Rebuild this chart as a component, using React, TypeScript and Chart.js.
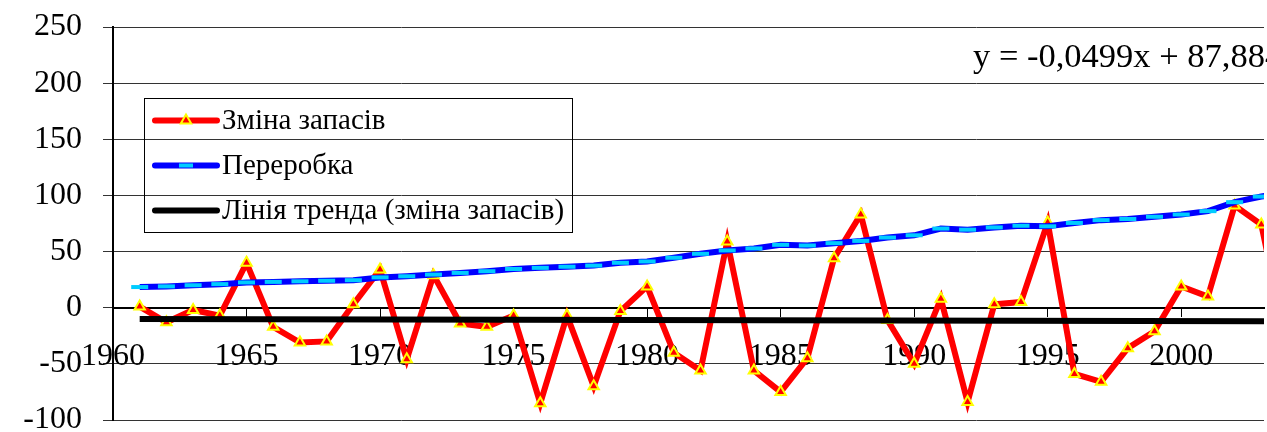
import React, { useEffect, useRef } from "react";
import { Chart, registerables } from "chart.js";

Chart.register(...registerables);

// ---- data ----
const years = [
  1961, 1962, 1963, 1964, 1965, 1966, 1967, 1968, 1969, 1970,
  1971, 1972, 1973, 1974, 1975, 1976, 1977, 1978, 1979, 1980,
  1981, 1982, 1983, 1984, 1985, 1986, 1987, 1988, 1989, 1990,
  1991, 1992, 1993, 1994, 1995, 1996, 1997, 1998, 1999, 2000,
  2001, 2002, 2003, 2004,
];
const stockChange = [
  1, -13, -2, -7, 40, -17, -31, -30, 3, 34,
  -46, 29, -14, -17, -7, -85, -7, -70, -3, 19,
  -40, -56, 59, -56, -75, -45, 44, 83, -11, -50,
  8, -84, 3, 5, 76, -59, -66, -36, -21, 19,
  10, 91, 74, -40,
];
const processing = [
  18.4, 19, 20, 21, 22.5, 23, 23.5, 24, 24.5, 27,
  28, 29.5, 31, 32.5, 34.5, 35.5, 36.5, 37.5, 40, 41.2,
  44.5, 48, 51, 52.8, 56, 55.4, 57.5, 59.5, 62.5, 64.5,
  70.5, 69.5, 71.5, 73, 72.5, 75.5, 78, 79, 81, 83,
  86, 94, 99, 103,
];
const trendYears = [1961, 2004];
const trendValues = [-9.97, -12.12];
const xTickYears = [1960, 1965, 1970, 1975, 1980, 1985, 1990, 1995, 2000];
const xMin = 1960;
const xMax = 2003.1;
const yMin = -100;
const yMax = 250;
const yStep = 50;
const seriesLabels = ["Зміна запасів", "Переробка", "Лінія тренда (зміна запасів)"];
const trendEquation = "y = -0,0499x + 87,884";

const FONT = '"Liberation Serif", "Times New Roman", serif';

function toPoints(xs: number[], ys: number[]) {
  return xs.map((x, i) => ({ x, y: ys[i] }));
}

export default function App() {
  const ref = useRef<HTMLCanvasElement>(null);

  useEffect(() => {
    const canvas = ref.current;
    if (!canvas) return;

    const boxLegend = {
      id: "boxLegend",
      afterDraw(chart: any) {
        const ctx = chart.ctx as CanvasRenderingContext2D;
        ctx.save();
        // legend frame
        ctx.strokeStyle = "#000";
        ctx.lineWidth = 1;
        ctx.strokeRect(144.5, 98.5, 428, 134);
        const rows = [120.5, 165.5, 210.5];
        chart.data.datasets.forEach((ds: any, i: number) => {
          const y = rows[i];
          ctx.strokeStyle = ds.borderColor;
          ctx.lineWidth = ds.borderWidth;
          ctx.lineCap = "round";
          ctx.beginPath();
          ctx.moveTo(155, y);
          ctx.lineTo(217, y);
          ctx.stroke();
          const cx = 186;
          if (ds.pointStyle === "triangle") {
            const r = ds.pointRadius;
            ctx.beginPath();
            for (let k = 0; k < 3; k++) {
              const a = (k * 2 * Math.PI) / 3;
              const px = cx + Math.sin(a) * r;
              const py = y - Math.cos(a) * r;
              if (k === 0) ctx.moveTo(px, py);
              else ctx.lineTo(px, py);
            }
            ctx.closePath();
            ctx.fillStyle = ds.pointBackgroundColor;
            ctx.fill();
            ctx.lineWidth = ds.pointBorderWidth;
            ctx.strokeStyle = ds.pointBorderColor;
            ctx.lineCap = "butt";
            ctx.stroke();
          } else if (ds.pointStyle === "line") {
            ctx.lineCap = "butt";
            ctx.strokeStyle = ds.pointBorderColor;
            ctx.lineWidth = ds.pointBorderWidth;
            ctx.beginPath();
            ctx.moveTo(cx - 7, y);
            ctx.lineTo(cx + 7, y);
            ctx.stroke();
          }
          ctx.fillStyle = "#000";
          ctx.font = `29px ${FONT}`;
          ctx.textBaseline = "middle";
          ctx.textAlign = "left";
          ctx.fillText(ds.label, 222, y + 1);
        });
        // trend equation
        ctx.font = `34.5px ${FONT}`;
        ctx.textBaseline = "alphabetic";
        ctx.fillText(trendEquation, 973, 67);
        ctx.restore();
      },
    };

    const chart = new Chart(canvas, {
      type: "line",
      data: {
        datasets: [
          {
            label: seriesLabels[0],
            data: toPoints(years, stockChange),
            borderColor: "#FF0000",
            borderWidth: 6,
            pointStyle: "triangle",
            pointRadius: 6,
            pointBackgroundColor: "#FF0000",
            pointBorderColor: "#FFFF00",
            pointBorderWidth: 2,
            tension: 0,
            order: 2,
          },
          {
            label: seriesLabels[1],
            data: toPoints(years, processing),
            borderColor: "#0000FF",
            borderWidth: 6,
            pointStyle: "line",
            pointRadius: 8.5,
            pointBackgroundColor: "#00CCFF",
            pointBorderColor: "#00CCFF",
            pointBorderWidth: 4,
            tension: 0,
            order: 1,
          },
          {
            label: seriesLabels[2],
            data: toPoints(trendYears, trendValues),
            borderColor: "#000000",
            borderWidth: 6,
            pointRadius: 0,
            tension: 0,
            order: 0,
          },
        ],
      } as any,
      options: {
        animation: false,
        responsive: false,
        devicePixelRatio: 1,
        layout: { autoPadding: false, padding: { top: 27, bottom: 12, left: 0, right: 3 } },
        plugins: {
          legend: { display: false },
          tooltip: { enabled: false },
        },
        events: [],
        scales: {
          x: {
            type: "linear",
            min: xMin,
            max: xMax,
            position: { y: 0 } as any,
            afterBuildTicks: (s: any) => {
              s.ticks = xTickYears.map((v) => ({ value: v }));
            },
            afterFit: (s: any) => {
              s.paddingLeft = 0;
              s.paddingRight = 0;
            },
            grid: {
              drawOnChartArea: false,
              drawTicks: true,
              tickLength: 8,
              color: "#000",
              lineWidth: 1,
            },
            border: { display: true, color: "#000", width: 2 },
            ticks: {
              font: { family: FONT, size: 32 },
              color: "#000",
              padding: 22,
              maxRotation: 0,
              autoSkip: false,
              callback: (v: any) => String(v),
            },
          },
          y: {
            type: "linear",
            min: yMin,
            max: yMax,
            afterFit: (s: any) => {
              s.width = 113;
              s.paddingTop = 0;
              s.paddingBottom = 0;
            },
            grid: { color: "#333", lineWidth: 1, tickLength: 10, drawTicks: true },
            border: { display: true, color: "#000", width: 2 },
            ticks: {
              stepSize: yStep,
              font: { family: FONT, size: 32 },
              color: "#000",
              padding: 21,
              callback: (v: any) => String(v),
            },
          },
        },
      } as any,
      plugins: [boxLegend],
    });

    return () => chart.destroy();
  }, []);

  return (
    <div
      style={{
        position: "fixed",
        left: 0,
        top: 0,
        width: 1267,
        height: 432,
        overflow: "hidden",
        background: "#fff",
      }}
    >
      <canvas ref={ref} width={1267} height={432} style={{ display: "block" }} />
    </div>
  );
}
